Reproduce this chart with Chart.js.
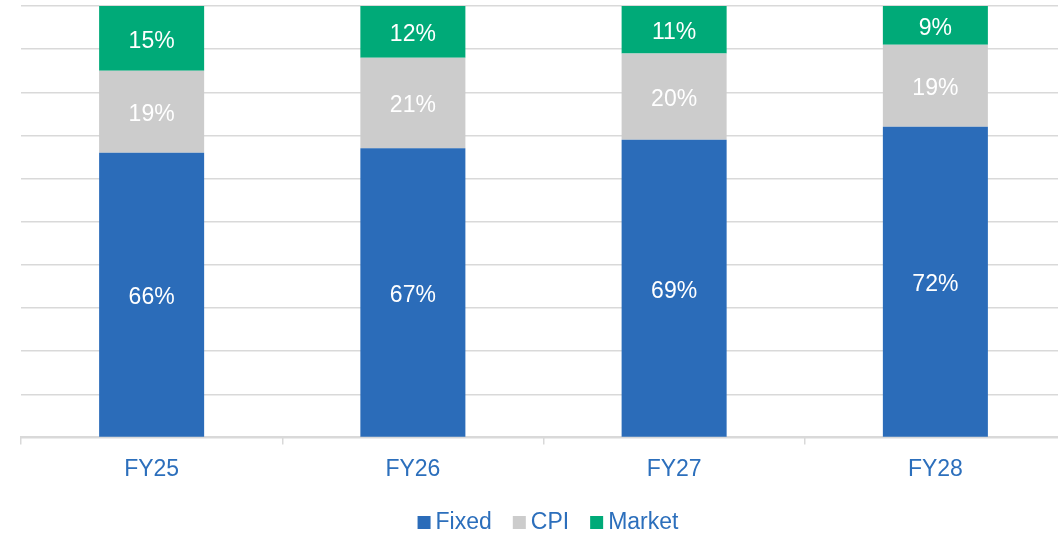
<!DOCTYPE html>
<html>
<head>
<meta charset="utf-8">
<script src="https://cdn.jsdelivr.net/npm/chart.js@4"></script>
<style>
  html, body { margin: 0; padding: 0; background: #ffffff; }
  #wrap { width: 1058px; height: 536px; overflow: hidden; position: relative; }
  #c { position: absolute; left: 0; top: 0; }
</style>
</head>
<body>
<div id="wrap"><canvas id="c" width="1067" height="536"></canvas></div>
<script>
const categories = ["FY25", "FY26", "FY27", "FY28"];
const fixedValues = [66, 67, 69, 72];
const cpiValues = [19, 21, 20, 19];
const marketValues = [15, 12, 11, 9];
const seriesNames = ["Fixed", "CPI", "Market"];

const textBlue = "#2c6fbc";
const fontFamily = "'Liberation Sans', Arial, sans-serif";
const fontSize = 23;

const barLabels = {
  id: "barLabels",
  afterDatasetsDraw(chart) {
    const ctx = chart.ctx;
    ctx.save();
    ctx.fillStyle = "#ffffff";
    ctx.font = fontSize + "px " + fontFamily;
    ctx.textAlign = "center";
    ctx.textBaseline = "middle";
    chart.data.datasets.forEach((ds, i) => {
      const meta = chart.getDatasetMeta(i);
      meta.data.forEach((bar, j) => {
        const v = ds.data[j];
        const y = (bar.y + bar.base) / 2 + 3;
        ctx.fillText(v + "%", bar.x, y);
      });
    });
    ctx.restore();
  }
};

const customLegend = {
  id: "customLegend",
  afterDraw(chart) {
    const ctx = chart.ctx;
    ctx.save();
    ctx.font = fontSize + "px " + fontFamily;
    ctx.textBaseline = "middle";
    const box = 13, gapText = 5, gapItem = 21;
    const items = chart.data.datasets.map(ds => ({ label: ds.label, color: ds.backgroundColor, w: ctx.measureText(ds.label).width }));
    const total = items.reduce((s, it) => s + box + gapText + it.w, 0) + gapItem * (items.length - 1);
    let x = 548 - total / 2;
    const cy = 522;
    items.forEach(it => {
      ctx.fillStyle = it.color;
      ctx.fillRect(x, cy - 6, box, box);
      x += box + gapText;
      ctx.fillStyle = textBlue;
      ctx.textAlign = "left";
      ctx.fillText(it.label, x, cy + 1);
      x += it.w + gapItem;
    });
    ctx.restore();
  }
};

new Chart(document.getElementById("c"), {
  type: "bar",
  data: {
    labels: categories,
    datasets: [
      { label: seriesNames[0], data: fixedValues, backgroundColor: "#2b6cb9" },
      { label: seriesNames[1], data: cpiValues, backgroundColor: "#cccccc" },
      { label: seriesNames[2], data: marketValues, backgroundColor: "#00aa78" }
    ]
  },
  options: {
    responsive: false,
    animation: false,
    layout: { padding: { left: 21, right: 1, top: 6, bottom: 42 } },
    datasets: { bar: { barPercentage: 0.5, categoryPercentage: 0.804 } },
    plugins: {
      tooltip: { enabled: false },
      legend: { display: false }
    },
    scales: {
      x: {
        stacked: true,
        offset: true,
        grid: { offset: true, drawOnChartArea: false, color: "#d9d9d9", lineWidth: 1.5, tickLength: 7 },
        border: { display: true, color: "#d9d9d9", width: 2 },
        ticks: { color: textBlue, font: { family: fontFamily, size: fontSize }, padding: 11 }
      },
      y: {
        stacked: true,
        min: 0, max: 100,
        ticks: { display: false, stepSize: 10 },
        grid: { color: "#d9d9d9", lineWidth: 1.5, drawTicks: false },
        border: { display: false }
      }
    }
  },
  plugins: [barLabels, customLegend]
});
</script>
</body>
</html>
